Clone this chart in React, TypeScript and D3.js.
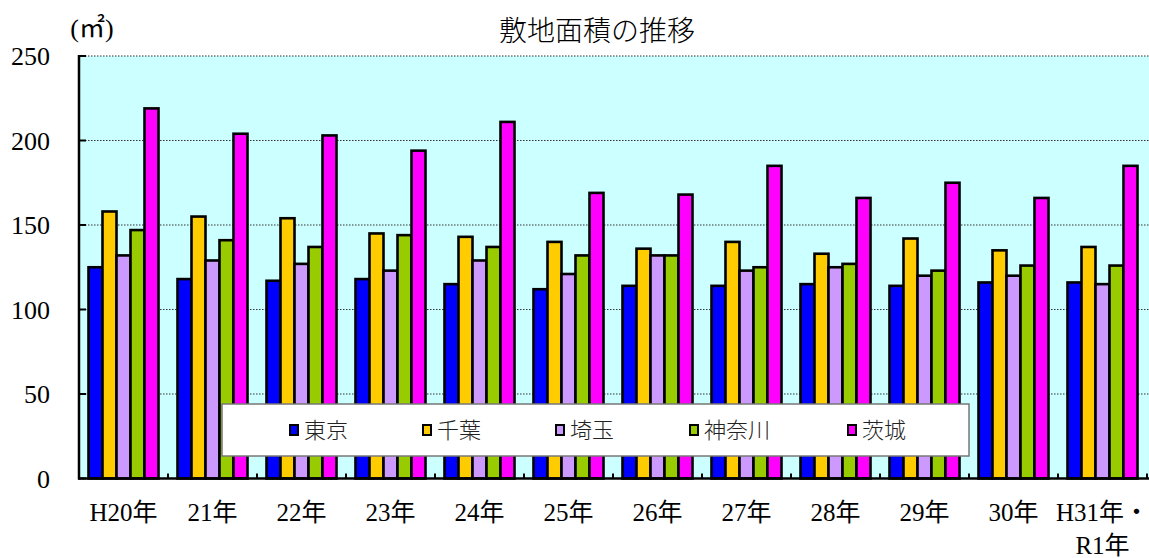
import React from "react";
import * as d3 from "d3";

const categories = ["H20年", "21年", "22年", "23年", "24年", "25年", "26年", "27年", "28年", "29年", "30年", "H31年・|R1年"];
const seriesNames = ["東京", "千葉", "埼玉", "神奈川", "茨城"];
const tokyo = [125, 118, 117, 118, 115, 112, 114, 114, 115, 114, 116, 116];
const chiba = [158, 155, 154, 145, 143, 140, 136, 140, 133, 142, 135, 137];
const saitama = [132, 129, 127, 123, 129, 121, 132, 123, 125, 120, 120, 115];
const kanagawa = [147, 141, 137, 144, 137, 132, 132, 125, 127, 123, 126, 126];
const ibaraki = [219, 204, 203, 194, 211, 169, 168, 185, 166, 175, 166, 185];
const yTicks = [0, 50, 100, 150, 200, 250];
const colors = ["#0000FF", "#FFCC00", "#CC99FF", "#99CC00", "#FF00FF"];

const seriesValues = [tokyo, chiba, saitama, kanagawa, ibaraki];

const W = 1149;
const H = 558;
const left = 79;
const right = 1147;
const top = 56;
const bottom = 478.5;

const serif = "'Liberation Serif', 'Noto Sans CJK JP', serif";
const cjk = "'Noto Sans CJK JP', sans-serif";

export default function App() {
  const x0 = d3.scaleBand<string>().domain(categories).range([left, right]).paddingInner(19 / 89).paddingOuter(19 / 178);
  const x1 = d3.scaleBand<string>().domain(seriesNames).range([0, x0.bandwidth()]);
  const y = d3.scaleLinear().domain([0, 250]).range([bottom, top]);
  const step = x0.step();

  const legendX = [290, 423, 556, 690, 848];

  return (
    <svg width={W} height={H} style={{ position: "absolute", left: 0, top: 0 }}>
      <rect x={0} y={0} width={W} height={H} fill="#fff" />
      <rect x={left} y={top} width={W - left} height={bottom - top} fill="#CCFFFF" />
      {yTicks.filter((t) => t > 0).map((t) => (
        <line key={t} x1={left} x2={W} y1={y(t)} y2={y(t)} stroke="#333" strokeWidth={1} strokeDasharray="1.5 1.5" />
      ))}
      {categories.map((c, i) =>
        seriesNames.map((s, j) => {
          const v = seriesValues[j][i];
          return (
            <rect
              key={c + s}
              x={(x0(c) as number) + (x1(s) as number)}
              y={y(v)}
              width={x1.bandwidth()}
              height={y(0) - y(v)}
              fill={colors[j]}
              stroke="#000"
              strokeWidth={2.6}
            />
          );
        })
      )}
      {/* axes */}
      <line x1={left} x2={left} y1={top - 1} y2={bottom + 1} stroke="#000" strokeWidth={2.5} />
      <line x1={left - 1} x2={W} y1={bottom} y2={bottom} stroke="#000" strokeWidth={2.5} />
      {yTicks.map((t) => (
        <line key={"yt" + t} x1={left} x2={left + 7} y1={y(t)} y2={y(t)} stroke="#000" strokeWidth={2} />
      ))}
      {d3.range(categories.length + 1).map((i) => (
        <line key={"xt" + i} x1={left + i * step} x2={left + i * step} y1={bottom} y2={bottom - 5} stroke="#000" strokeWidth={2} />
      ))}
      {yTicks.map((t) => (
        <text key={"yl" + t} x={50} y={y(t)} dy="0.35em" textAnchor="end" fontFamily={serif} fontSize={26} fill="#000">
          {t}
        </text>
      ))}
      {categories.map((c) => {
        const lines = c.split("|");
        const cx = (x0(c) as number) + x0.bandwidth() / 2;
        return (
          <text key={"xl" + c} x={cx} y={521} textAnchor="middle" fontFamily={serif} fontSize={25} fill="#000">
            {lines.map((l, k) => (
              <tspan key={k} x={cx} dy={k === 0 ? 0 : 33}>
                {l}
              </tspan>
            ))}
          </text>
        );
      })}
      {/* title */}
      <text x={597} y={31} dy="0.35em" textAnchor="middle" fontFamily={cjk} fontWeight={300} fontSize={28} fill="#000">
        敷地面積の推移
      </text>
      <text x={92} y={28} dy="0.35em" textAnchor="middle" fontFamily={serif} fontSize={26} fill="#000">
        (㎡)
      </text>
      {/* legend */}
      <rect x={222} y={404} width={747} height={52} fill="#fff" stroke="#777" strokeWidth={1.5} />
      {seriesNames.map((s, j) => (
        <g key={"lg" + s}>
          <rect x={legendX[j]} y={425} width={8} height={10} fill={colors[j]} stroke="#000" strokeWidth={2} />
          <text x={legendX[j] + 14} y={430} dy="0.35em" fontFamily={cjk} fontWeight={300} fontSize={22} fill="#222">
            {s}
          </text>
        </g>
      ))}
    </svg>
  );
}
